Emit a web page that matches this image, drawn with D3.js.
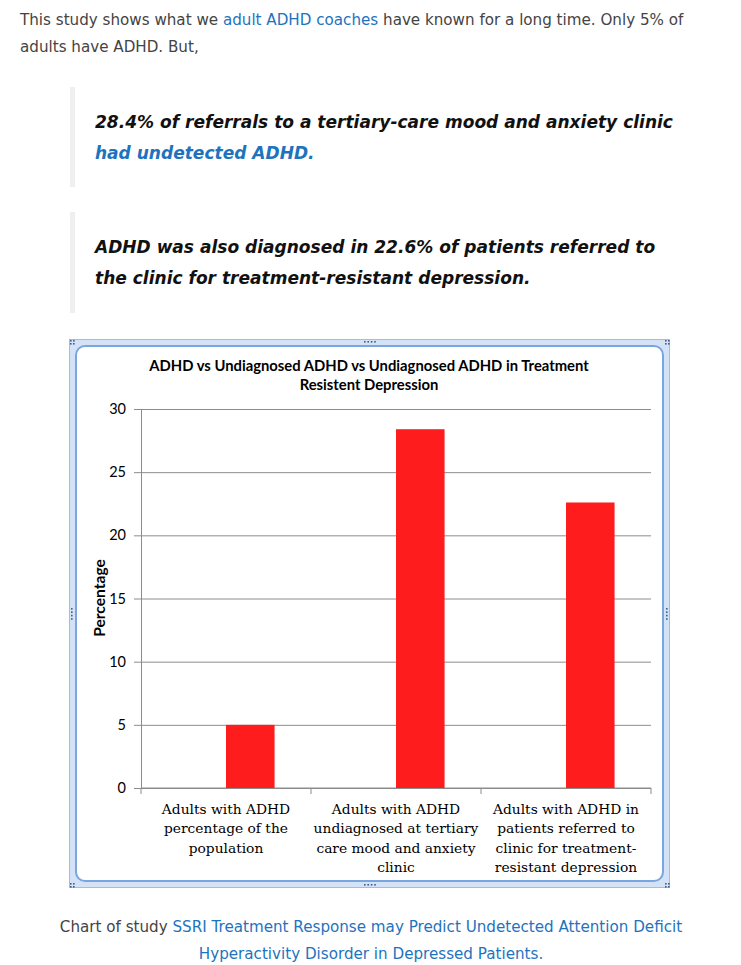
<!DOCTYPE html>
<html>
<head>
<meta charset="utf-8">
<script src="https://cdn.jsdelivr.net/npm/d3@7"></script>
<style>
  html, body { margin: 0; padding: 0; background: #fff; }
  svg { display: block; }
</style>
</head>
<body>
<svg id="page"></svg>
<script>
// chart data
const categories = ["population", "tertiary", "resistant"]
const categoryLines = [
  ["Adults with ADHD", "percentage of the", "population"],
  ["Adults with ADHD", "undiagnosed at tertiary", "care mood and anxiety", "clinic"],
  ["Adults with ADHD in", "patients referred to", "clinic for treatment-", "resistant depression"]
]
// excel kept an empty first series, so the bars sit right of centre
const seriesSlots = ["blank", "Percentage"]
const values = [5, 28.4, 22.6]
const yTicks = [0, 5, 10, 15, 20, 25, 30]
const titleLines = ["ADHD vs Undiagnosed ADHD vs Undiagnosed ADHD in Treatment", "Resistent Depression"]

const width = 741
const height = 965
const svg = d3.select('#page').attr('width', width).attr('height', height)

const bodyFont = '"DejaVu Sans", Verdana, sans-serif'
const textCol = '#444'
const linkCol = '#1e73be'
const bodySize = 15.15

// --- intro paragraph ---
const p1 = svg.append('text').attr('x', 20).attr('y', 25)
  .attr('font-family', bodyFont).attr('font-size', bodySize).attr('fill', textCol)
p1.append('tspan').text('This study shows what we ')
p1.append('tspan').attr('fill', linkCol).text('adult ADHD coaches')
p1.append('tspan').text(' have known for a long time. Only 5% of')
svg.append('text').attr('x', 20).attr('y', 52)
  .attr('font-family', bodyFont).attr('font-size', bodySize).attr('fill', textCol)
  .text('adults have ADHD. But,')

// --- block quotes ---
const quotes = [
  {top: 87, bottom: 187, lines: [[['28.4% of referrals to a tertiary-care mood and anxiety clinic', '#111']], [['had undetected ADHD.', linkCol]]]},
  {top: 212, bottom: 313, lines: [[['ADHD was also diagnosed in 22.6% of patients referred to', '#111']], [['the clinic for treatment-resistant depression.', '#111']]]}
]
quotes.forEach(function (q) {
  svg.append('rect').attr('x', 70).attr('y', q.top).attr('width', 5)
    .attr('height', q.bottom - q.top).attr('fill', '#efefef')
  q.lines.forEach(function (line, i) {
    const t = svg.append('text').attr('x', 95).attr('y', q.top + 41 + i * 31)
      .attr('font-family', bodyFont).attr('font-size', 17.05)
      .attr('font-weight', 'bold').attr('font-style', 'italic')
    line.forEach(function (seg) { t.append('tspan').attr('fill', seg[1]).text(seg[0]) })
  })
})

// --- excel style chart frame ---
const frame = svg.append('g')
frame.append('rect').attr('x', 69.5).attr('y', 339.5).attr('width', 600).attr('height', 548)
  .attr('fill', '#d3e2f6').attr('stroke', '#9fbde6')
frame.append('rect').attr('x', 76).attr('y', 346).attr('width', 587).attr('height', 535)
  .attr('rx', 9).attr('fill', '#fff').attr('stroke', '#7aa5dd').attr('stroke-width', 2)
// little grip dots
function grip(cx, cy, horizontal) {
  for (let i = 0; i < 4; i++) {
    frame.append('rect')
      .attr('x', horizontal ? cx - 6 + i * 3.4 : cx - 1)
      .attr('y', horizontal ? cy - 1 : cy - 6 + i * 3.4)
      .attr('width', 1.6).attr('height', 1.6).attr('fill', '#3d5f8f')
  }
}
grip(370, 342, true)
grip(370, 885, true)
grip(72, 614, false)
grip(667, 614, false)
;[[72, 342], [667, 342], [72, 885], [667, 885]].forEach(function (c) {
  [[-2, -2], [1, -2], [-2, 1], [1, 1]].forEach(function (o) {
    frame.append('rect').attr('x', c[0] + o[0]).attr('y', c[1] + o[1])
      .attr('width', 1.6).attr('height', 1.6).attr('fill', '#3d5f8f')
  })
})

// --- chart ---
const chartFont = 'Lato, "Open Sans", sans-serif'
const serifFont = '"DejaVu Serif", "Liberation Serif", serif'
const plot = {left: 141, right: 651, top: 409, bottom: 788}

const x0 = d3.scaleBand().domain(categories).range([plot.left, plot.right])
// gap width 150% like excel: two slots per category
const x1 = d3.scaleBand().domain(seriesSlots).range([0, x0.bandwidth()])
  .paddingInner(0).paddingOuter(0.75)
const y = d3.scaleLinear().domain([0, 30]).range([plot.bottom, plot.top])

const chart = svg.append('g')

// title
chart.append('g').selectAll('text').data(titleLines).enter().append('text')
  .attr('x', 369).attr('y', function (d, i) { return 371 + i * 19 })
  .attr('text-anchor', 'middle').attr('font-family', chartFont)
  .attr('font-size', 14.8).attr('font-weight', 'bold').attr('fill', '#000')
  .text(function (d) { return d })

// grid lines (drawn with an axis, no labels)
const grid = chart.append('g').attr('transform', 'translate(' + plot.right + ',0)')
  .call(d3.axisRight(y).tickValues(yTicks).tickSize(-(plot.right - plot.left + 7)).tickFormat(''))
grid.select('.domain').remove()
grid.selectAll('line').attr('stroke', '#8c8c8c')

// y axis
const yAxis = chart.append('g').attr('transform', 'translate(' + plot.left + ',0)')
  .call(d3.axisLeft(y).tickValues(yTicks).tickSize(0).tickPadding(15))
yAxis.select('.domain').attr('stroke', '#8c8c8c')
yAxis.selectAll('text').attr('font-family', chartFont).attr('font-size', 14.5).attr('fill', '#000')

// x axis with tick marks on the category boundaries
const xAxisG = chart.append('g')
xAxisG.append('line').attr('x1', plot.left).attr('x2', plot.right)
  .attr('y1', plot.bottom).attr('y2', plot.bottom).attr('stroke', '#8c8c8c')
const bounds = categories.map(function (c) { return x0(c) })
bounds.push(plot.right)
xAxisG.selectAll('.tk').data(bounds).enter().append('line')
  .attr('x1', function (d) { return d }).attr('x2', function (d) { return d })
  .attr('y1', plot.bottom).attr('y2', plot.bottom + 6).attr('stroke', '#8c8c8c')

// bars
chart.append('g').selectAll('rect').data(values).enter().append('rect')
  .attr('x', function (d, i) { return x0(categories[i]) + x1('Percentage') })
  .attr('y', function (d) { return y(d) })
  .attr('width', x1.bandwidth())
  .attr('height', function (d) { return y(0) - y(d) })
  .attr('fill', '#ff1c1c')

// category labels
categoryLines.forEach(function (lines, i) {
  chart.append('g').selectAll('text').data(lines).enter().append('text')
    .attr('x', x0(categories[i]) + x0.bandwidth() / 2)
    .attr('y', function (d, j) { return 814 + j * 19.3 })
    .attr('text-anchor', 'middle').attr('font-family', serifFont)
    .attr('font-size', 13.8).attr('fill', '#000')
    .text(function (d) { return d })
})

// y axis title
chart.append('text').attr('transform', 'translate(105,598) rotate(-90)')
  .attr('text-anchor', 'middle').attr('font-family', chartFont)
  .attr('font-size', 15.6).attr('font-weight', 'bold').attr('fill', '#000')
  .text('Percentage')

// --- caption ---
const c1 = svg.append('text').attr('x', 371).attr('y', 932).attr('text-anchor', 'middle')
  .attr('font-family', bodyFont).attr('font-size', bodySize).attr('fill', textCol)
c1.append('tspan').text('Chart of study ')
c1.append('tspan').attr('fill', linkCol).text('SSRI Treatment Response may Predict Undetected Attention Deficit')
svg.append('text').attr('x', 371).attr('y', 959).attr('text-anchor', 'middle')
  .attr('font-family', bodyFont).attr('font-size', bodySize).attr('fill', linkCol)
  .text('Hyperactivity Disorder in Depressed Patients.')
</script>
</body>
</html>
